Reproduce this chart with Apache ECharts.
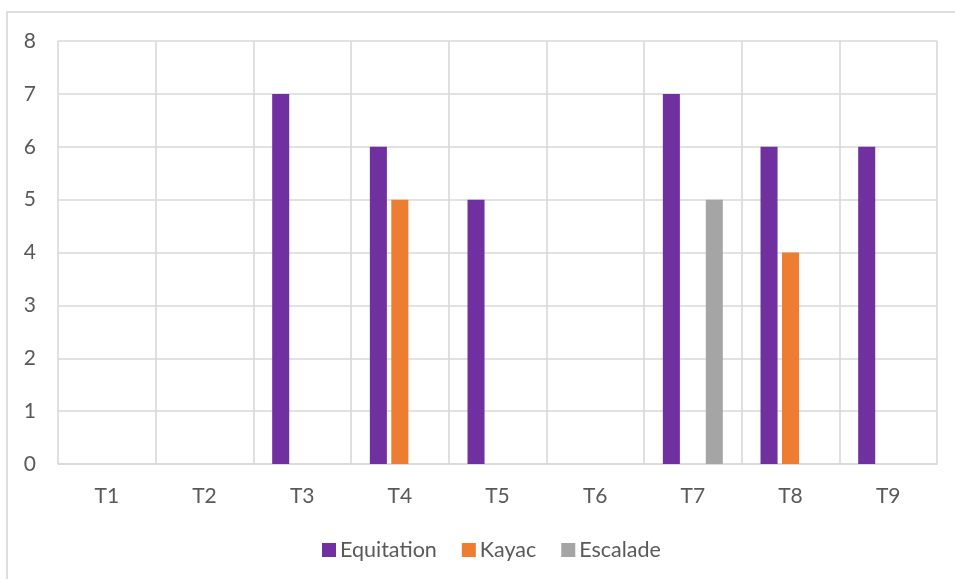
<!DOCTYPE html>
<html>
<head>
<meta charset="utf-8">
<script src="https://cdn.jsdelivr.net/npm/echarts@6/dist/echarts.min.js"></script>
<style>
  html, body { margin: 0; padding: 0; background: #fff; }
  #wrap { position: relative; width: 955px; height: 579px; overflow: hidden; }
  #frame { position: absolute; left: 6px; top: 11px; width: 960px; height: 600px;
           border: 2px solid #dedede; box-sizing: border-box; }
  #chart { position: absolute; left: 0; top: 0; width: 955px; height: 579px; }
</style>
</head>
<body>
<div id="wrap">
  <div id="frame"></div>
  <div id="chart"></div>
</div>
<script>
// Activity ratings per session
const categories = ['T1', 'T2', 'T3', 'T4', 'T5', 'T6', 'T7', 'T8', 'T9'];
const equitation = [null, null, 7, 6, 5, null, 7, 6, 6];
const kayac      = [null, null, null, 5, null, null, null, 4, null];
const escalade   = [null, null, null, null, null, null, 5, null, null];
const yTicks = [0, 1, 2, 3, 4, 5, 6, 7, 8];

const FONT = 'Lato';
const TEXT = '#595959';
const GRID = '#d9d9d9';

const chart = echarts.init(document.getElementById('chart'), null, { renderer: 'canvas' });

chart.setOption({
  backgroundColor: 'transparent',
  animation: false,
  textStyle: { fontFamily: FONT, color: TEXT },
  grid: { left: 58, right: 18, top: 41, bottom: 115, containLabel: false },
  legend: {
    bottom: 13,
    left: 317,
    itemWidth: 14,
    itemHeight: 14,
    itemGap: 25,
    icon: 'rect',
    textStyle: { fontFamily: FONT, fontSize: 21.5, color: TEXT, padding: [0, 0, 0, -1] },
    data: ['Equitation', 'Kayac', 'Escalade']
  },
  xAxis: {
    type: 'category',
    data: categories,
    boundaryGap: true,
    axisLine: { show: true, lineStyle: { color: GRID, width: 1.6 } },
    axisTick: { show: false },
    splitLine: { show: true, lineStyle: { color: GRID, width: 1.6 } },
    axisLabel: { fontFamily: FONT, fontSize: 21, color: TEXT, margin: 22, interval: 0 }
  },
  yAxis: {
    type: 'value',
    min: yTicks[0],
    max: yTicks[yTicks.length - 1],
    interval: 1,
    axisLine: { show: false },
    axisTick: { show: false },
    splitLine: { show: true, lineStyle: { color: GRID, width: 1.6 } },
    axisLabel: { fontFamily: FONT, fontSize: 21, color: TEXT, margin: 22 }
  },
  series: [
    { name: 'Equitation', type: 'bar', data: equitation,
      itemStyle: { color: '#7030a0' }, barGap: '26%', barCategoryGap: '38.6%' },
    { name: 'Kayac', type: 'bar', data: kayac,
      itemStyle: { color: '#ed7d31' } },
    { name: 'Escalade', type: 'bar', data: escalade,
      itemStyle: { color: '#a5a5a5' } }
  ]
});
</script>
</body>
</html>
